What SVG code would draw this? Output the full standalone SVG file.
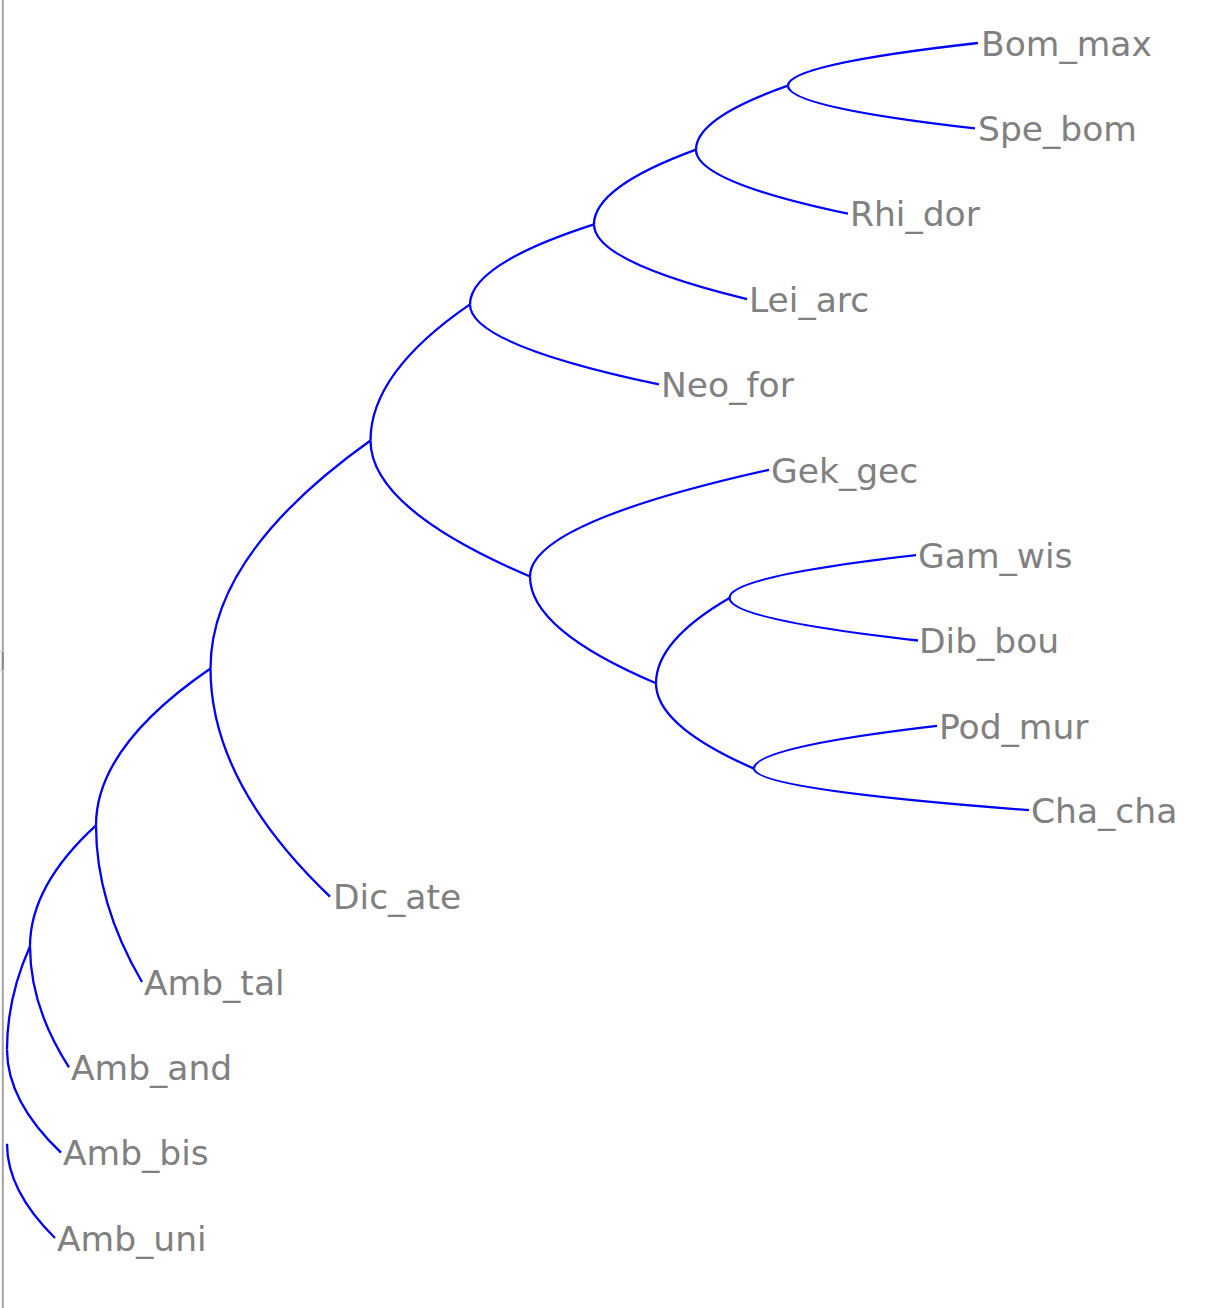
<svg xmlns="http://www.w3.org/2000/svg" width="1226" height="1308" viewBox="0 0 1226 1308">
<style>
.e{fill:none;stroke:#0000ff;stroke-width:2.3}
.t{font-family:"DejaVu Sans","Open Sans",sans-serif;font-size:34.5px;fill:#808080}
</style>
<rect width="1226" height="1308" fill="#ffffff"/>
<g id="frame">
<line x1="2.8" y1="0" x2="2.8" y2="1308" stroke="#a3a3a3" stroke-width="2"/>
<line x1="2.8" y1="651" x2="2.8" y2="670" stroke="#8a8a8a" stroke-width="2"/>
<line x1="0" y1="651.5" x2="4" y2="651.5" stroke="#c8c8c8" stroke-width="1"/>
<line x1="0" y1="670.5" x2="4" y2="670.5" stroke="#c8c8c8" stroke-width="1"/>
</g>
<g id="connectors">
<path class="e" d="M788 85.7 Q788 64.35 978 43"/>
<path class="e" d="M788 85.7 Q788 107.05 975 128.4"/>
<path class="e" d="M696 149.7 Q696 117.7 788 85.7"/>
<path class="e" d="M696 149.7 Q696 181.7 848 213.7"/>
<path class="e" d="M594 224.4 Q594 187.05 696 149.7"/>
<path class="e" d="M594 224.4 Q594 261.75 747 299.1"/>
<path class="e" d="M470 304.4 Q470 264.4 594 224.4"/>
<path class="e" d="M470 304.4 Q470 344.4 659 384.4"/>
<path class="e" d="M729.5 597.9 Q729.5 576.55 916 555.2"/>
<path class="e" d="M729.5 597.9 Q729.5 619.2 918 640.5"/>
<path class="e" d="M754 768.6 Q754 747.25 937 725.9"/>
<path class="e" d="M754 768.6 Q754 789.4 1029 810.2"/>
<path class="e" d="M656 683.2 Q656 640.55 729.5 597.9"/>
<path class="e" d="M656 683.2 Q656 725.9 754 768.6"/>
<path class="e" d="M530 576.5 Q530 523.15 769 469.8"/>
<path class="e" d="M530 576.5 Q530 629.85 656 683.2"/>
<path class="e" d="M370.5 440.5 Q370.5 372.45 470 304.4"/>
<path class="e" d="M370.5 440.5 Q370.5 508.5 530 576.5"/>
<path class="e" d="M210.5 668.5 Q210.5 554.5 370.5 440.5"/>
<path class="e" d="M210.5 668.5 Q210.5 782.55 330 896.6"/>
<path class="e" d="M96 825.3 Q96 746.9 210.5 668.5"/>
<path class="e" d="M96 825.3 Q96 903.65 142 982"/>
<path class="e" d="M30 946.3 Q30 885.8 96 825.3"/>
<path class="e" d="M30 946.3 Q30 1006.8 69 1067.3"/>
<path class="e" d="M7 1049.5 Q7 997.9 30 946.3"/>
<path class="e" d="M7 1049.5 Q7 1101.1 61 1152.7"/>
<path class="e" d="M7 1143.8 Q7 1190.9 55 1238"/>
</g>
<g id="Bom_max"><text class="t" x="981" y="55.5">Bom_max</text></g>
<g id="Spe_bom"><text class="t" x="978" y="141">Spe_bom</text></g>
<g id="Rhi_dor"><text class="t" x="850" y="226">Rhi_dor</text></g>
<g id="Lei_arc"><text class="t" x="749" y="311.5">Lei_arc</text></g>
<g id="Neo_for"><text class="t" x="661" y="397">Neo_for</text></g>
<g id="Gek_gec"><text class="t" x="771" y="482.5">Gek_gec</text></g>
<g id="Gam_wis"><text class="t" x="918" y="568">Gam_wis</text></g>
<g id="Dib_bou"><text class="t" x="919" y="653">Dib_bou</text></g>
<g id="Pod_mur"><text class="t" x="939" y="738.5">Pod_mur</text></g>
<g id="Cha_cha"><text class="t" x="1031" y="822.5">Cha_cha</text></g>
<g id="Dic_ate"><text class="t" x="333" y="909">Dic_ate</text></g>
<g id="Amb_tal"><text class="t" x="144" y="994.5">Amb_tal</text></g>
<g id="Amb_and"><text class="t" x="71" y="1080">Amb_and</text></g>
<g id="Amb_bis"><text class="t" x="63" y="1165">Amb_bis</text></g>
<g id="Amb_uni"><text class="t" x="57" y="1250.5">Amb_uni</text></g>
</svg>
